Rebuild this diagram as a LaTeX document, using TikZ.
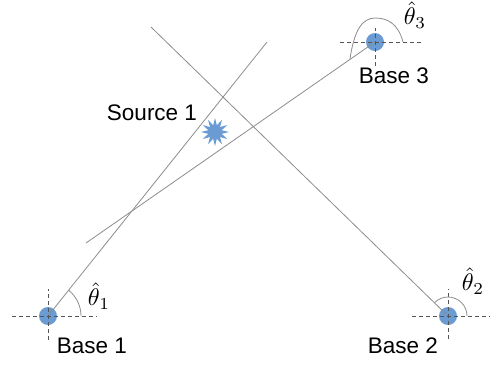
\documentclass[tikz,border=0pt]{standalone}
\usepackage{fontspec}
\setmainfont{Liberation Sans}
\usetikzlibrary{shapes.geometric}
\definecolor{baseblue}{HTML}{6A9BD3}
\definecolor{linegray}{HTML}{8C8C8C}
\definecolor{dashgray}{HTML}{555555}
\newcommand{\bigang}[1]{\scalebox{2.4}{$\hat\theta_{#1}$}}
\begin{document}
\begin{tikzpicture}[x=1pt,y=-1pt,
  basedot/.style={circle,fill=baseblue,inner sep=0pt,minimum size=18pt},
  ray/.style={draw=linegray,line width=0.8pt},
  cross/.style={draw=dashgray,line width=0.8pt,dash pattern=on 4pt off 3pt},
  anglearc/.style={draw=linegray,line width=0.8pt},
  lbl/.style={font=\fontsize{22.5}{26}\selectfont,inner sep=0pt},
  ang/.style={inner sep=0pt}]
\useasboundingbox (0,0) rectangle (490,368);
% bases
\node[basedot] (b1) at (48,316) {};
\node[basedot] (b2) at (448,316) {};
\node[basedot] (b3) at (375,42) {};
% ray ends
\coordinate (e1) at (267,42);
\coordinate (e2) at (151,27);
\coordinate (e3) at (86,243);
% rays
\draw[ray] (b1.center) -- (e1);
\draw[ray] (b2.center) -- (e2);
\draw[ray] (b3.center) -- (e3);
% crosshairs
\draw[cross] ([xshift=-36pt]b1.center) -- ([xshift=49pt]b1.center);
\draw[cross] ([yshift=-24pt]b1.center) -- ([yshift=27pt]b1.center);
\draw[cross] ([xshift=-36pt]b2.center) -- ([xshift=42pt]b2.center);
\draw[cross] ([yshift=-23pt]b2.center) -- ([yshift=27pt]b2.center);
\draw[cross] ([xshift=-35pt]b3.center) -- ([xshift=48pt]b3.center);
\draw[cross] ([yshift=-24pt]b3.center) -- ([yshift=14pt]b3.center);
% angle arcs
\draw[anglearc] ([xshift=33pt]b1.center) arc[start angle=0,end angle=-51.3,radius=33];
\draw[anglearc] ([xshift=19pt]b2.center) arc[start angle=0,end angle=-135.7,radius=19];
\draw[anglearc] ([xshift=28pt]b3.center) .. controls (398,23) and (387,18) .. (375,18)
  .. controls (362,18) and (354,31) .. (350,59);
% angle labels
\node[ang] (t1) at (99,296) {\bigang{1}};
\node[ang] (t2) at (473,281) {\bigang{2}};
\node[ang] (t3) at (415,15) {\bigang{3}};
% base labels
\node[lbl] (l1) at (92,346) {Base 1};
\node[lbl] (l2) at (403,346) {Base 2};
\node[lbl] (l3) at (394,76) {Base 3};
% source
\node[lbl] (s1) at (152,113) {Source 1};
\node[star,star points=12,star point ratio=2,fill=baseblue,minimum size=28pt,inner sep=0pt] (src) at (215,132) {};
\end{tikzpicture}
\end{document}
